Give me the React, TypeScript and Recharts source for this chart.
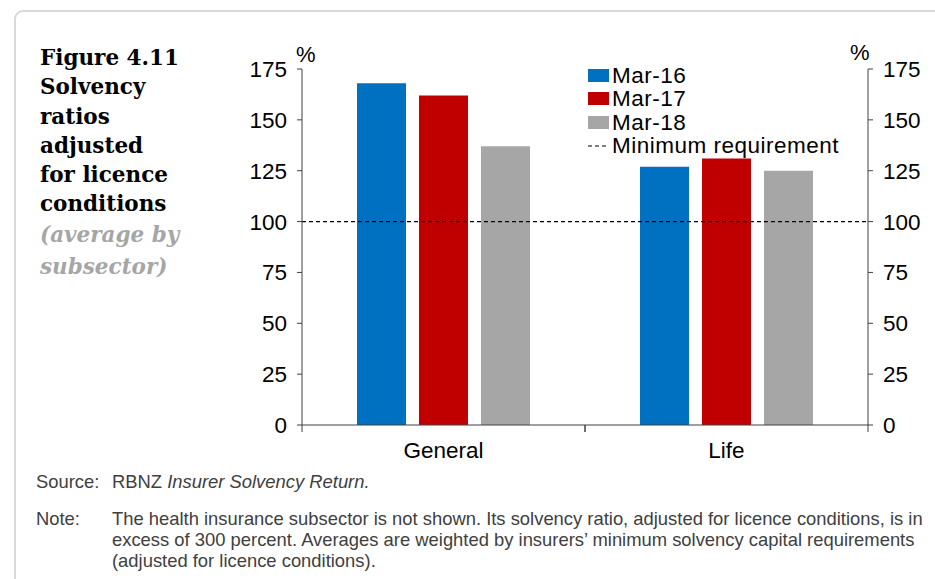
import React from "react";
import { BarChart, Bar, XAxis, YAxis, ReferenceLine } from "recharts";

const categories = ["General", "Life"];
const mar16 = [168, 127];
const mar17 = [162, 131];
const mar18 = [137, 125];
const yTicks = [0, 25, 50, 75, 100, 125, 150, 175];
const minimumRequirement = 100;
const seriesNames = ["Mar-16", "Mar-17", "Mar-18"];
const refName = "Minimum requirement";

const data = categories.map((c, i) => ({
  name: c,
  m16: mar16[i],
  m17: mar17[i],
  m18: mar18[i],
}));

const COLORS = ["#0070C0", "#C00000", "#A6A6A6"];
const AX = "Liberation Sans, Arial, sans-serif";
const AXIS_COLOR = "#404040";

const XTick = (props: any) => {
  const { x, y, payload } = props;
  const half = payload && payload.offset != null ? payload.offset : 141.5;
  return (
    <g>
      <line x1={x - half} y1={y} x2={x - half} y2={y + 7} stroke={AXIS_COLOR} strokeWidth={1} />
      <line x1={x + half} y1={y} x2={x + half} y2={y + 7} stroke={AXIS_COLOR} strokeWidth={1} />
      <text x={x} y={y + 33} textAnchor="middle" fontSize={22.5} fontFamily={AX} fill="#000">
        {payload.value}
      </text>
    </g>
  );
};

const LegendBox = () => (
  <div
    style={{
      position: "absolute",
      left: 588,
      top: 64,
      fontFamily: AX,
      fontSize: 22.5,
      letterSpacing: 0.5,
      color: "#000",
      lineHeight: "23.3px",
      whiteSpace: "nowrap",
    }}
  >
    {seriesNames.map((n, i) => (
      <div key={n} style={{ display: "flex", alignItems: "center" }}>
        <span style={{ display: "inline-block", width: 21, height: 13, background: COLORS[i], marginRight: 3 }} />
        <span>{n}</span>
      </div>
    ))}
    <div style={{ display: "flex", alignItems: "center" }}>
      <svg width={21} height={13} style={{ marginRight: 3 }}>
        <line x1={0} y1={7} x2={21} y2={7} stroke="#000" strokeWidth={1.2} strokeDasharray="4 3" />
      </svg>
      <span>{refName}</span>
    </div>
  </div>
);

export default function App() {
  return (
    <div
      style={{
        position: "absolute",
        left: 0,
        top: 0,
        width: 935,
        height: 579,
        background: "#fff",
        overflow: "hidden",
      }}
    >
      <div
        style={{
          position: "absolute",
          left: 14,
          top: 10,
          width: 1000,
          height: 700,
          border: "2px solid #d9d9d9",
          borderRadius: 9,
          boxSizing: "border-box",
        }}
      />
      <div
        style={{
          position: "absolute",
          left: 40,
          top: 43,
          width: 200,
          fontFamily: "DejaVu Serif, Liberation Serif, serif",
          fontWeight: "bold",
          fontSize: 21.5,
          lineHeight: "29.3px",
          color: "#000",
        }}
      >
        <div>Figure 4.11</div>
        <div>Solvency</div>
        <div>ratios</div>
        <div>adjusted</div>
        <div>for licence</div>
        <div>conditions</div>
        <div style={{ color: "#a6a6a6", fontStyle: "italic", lineHeight: "32px" }}>(average by</div>
        <div style={{ color: "#a6a6a6", fontStyle: "italic", lineHeight: "32px" }}>subsector)</div>
      </div>

      <div style={{ position: "absolute", left: 0, top: 0 }}>
        <BarChart
          width={935}
          height={579}
          data={data}
          margin={{ top: 69, right: 7, left: 242, bottom: 114 }}
          barCategoryGap={55}
          barGap={13}
        >
          <XAxis
            dataKey="name"
            tickLine={false}
            tickSize={0}
            tickMargin={0}
            tick={<XTick />}
            stroke={AXIS_COLOR}
            height={40}
            interval={0}
          />
          <YAxis
            yAxisId="left"
            orientation="left"
            domain={[0, 175]}
            ticks={yTicks}
            width={60}
            tickSize={5}
            tickMargin={10}
            stroke={AXIS_COLOR}
            tick={{ fontSize: 22.5, fontFamily: AX, fill: "#000" }}
            interval={0}
          />
          <YAxis
            yAxisId="right"
            orientation="right"
            domain={[0, 175]}
            ticks={yTicks}
            width={60}
            tickSize={5}
            tickMargin={10}
            stroke={AXIS_COLOR}
            tick={{ fontSize: 22.5, fontFamily: AX, fill: "#000" }}
            interval={0}
          />
          <Bar dataKey="m16" name={seriesNames[0]} yAxisId="left" fill={COLORS[0]} isAnimationActive={false} />
          <Bar dataKey="m17" name={seriesNames[1]} yAxisId="left" fill={COLORS[1]} isAnimationActive={false} />
          <Bar dataKey="m18" name={seriesNames[2]} yAxisId="right" fill={COLORS[2]} isAnimationActive={false} />
          <ReferenceLine
            y={minimumRequirement}
            yAxisId="left"
            stroke="#000"
            strokeWidth={1.2}
            strokeDasharray="4 3"
          />
        </BarChart>
      </div>

      <LegendBox />

      <div style={{ position: "absolute", left: 296, top: 42, fontFamily: AX, fontSize: 22 }}>%</div>
      <div style={{ position: "absolute", left: 850, top: 40, fontFamily: AX, fontSize: 22 }}>%</div>

      <div
        style={{
          position: "absolute",
          left: 36,
          top: 471,
          fontFamily: AX,
          fontSize: 18.4,
          color: "#404040",
          lineHeight: "21px",
        }}
      >
        <div style={{ display: "flex" }}>
          <span style={{ width: 76, display: "inline-block" }}>Source:</span>
          <span>
            RBNZ <i>Insurer Solvency Return.</i>
          </span>
        </div>
        <div style={{ display: "flex", marginTop: 16, whiteSpace: "nowrap" }}>
          <span style={{ width: 76, display: "inline-block", flexShrink: 0 }}>Note:</span>
          <span>
            The health insurance subsector is not shown. Its solvency ratio, adjusted for licence conditions, is in
            <br />
            excess of 300 percent. Averages are weighted by insurers’ minimum solvency capital requirements
            <br />
            (adjusted for licence conditions).
          </span>
        </div>
      </div>
    </div>
  );
}
